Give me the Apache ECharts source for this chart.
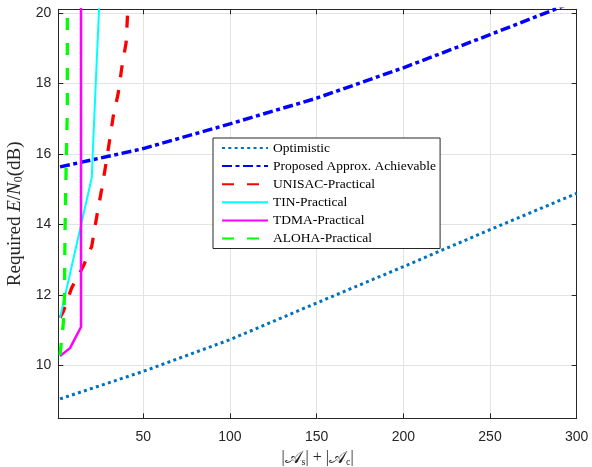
<!DOCTYPE html>
<html>
<head>
<meta charset="utf-8">
<script src="https://cdn.jsdelivr.net/npm/echarts@6/dist/echarts.min.js"></script>
<style>html,body{margin:0;padding:0;background:#fff;}#c{width:592px;height:467px;}</style>
</head>
<body>
<div id="c"></div>
<script>
// ---- data ----
const seriesNames = ['Optimistic','Proposed Approx. Achievable','UNISAC-Practical','TIN-Practical','TDMA-Practical','ALOHA-Practical'];
const xTicks = [50,100,150,200,250,300];
const yTicks = [10,12,14,16,18,20];
const optimistic = [[2,9.05],[50,9.83],[100,10.73],[150,11.77],[200,12.8],[250,13.85],[300,14.88]];
const proposed = [[2,15.63],[50,16.15],[100,16.85],[150,17.58],[200,18.44],[250,19.38],[288,20.11],[300,20.35]];
const unisac = [[2,11.35],[3.9,11.53],[8.7,12.2],[15.4,12.81],[20.3,13.38],[23.2,14.23],[26,14.99],[28.9,15.84],[30.8,16.45],[32.7,17.07],[35.6,17.73],[37.6,18.44],[40.1,19.15],[41,20.0],[41.4,20.4]];
const tin = [[2,11.35],[20.3,15.32],[21.2,16.4],[22.6,18.0],[24.5,20.1],[24.7,20.5]];
const tdma = [[2,10.27],[7.75,10.49],[14.1,11.09],[14.1,21]];
const aloha = [[2,10.3],[3.9,11.2],[4.5,11.9],[4.9,13.9],[5.8,16.4],[6.2,17.2],[6.2,21]];

const chart = echarts.init(document.getElementById('c'));
const axisColor = '#262626';
const gridColor = '#e3e3e3';
const serif = '"Liberation Serif","DejaVu Serif",serif';
const sans = '"Liberation Sans",Arial,sans-serif';

function baseX(pos, show){
  return {
    type:'value', position:pos, min:1, max:300,
    axisLine:{show:true,onZero:false,lineStyle:{color:axisColor,width:1}},
    axisTick:{show:true,inside:true,length:5,customValues:xTicks,lineStyle:{color:axisColor}},
    axisLabel:{show:show,customValues:xTicks,color:'#262626',fontFamily:sans,fontSize:14,margin:12},
    splitLine:{show:show,lineStyle:{color:gridColor,width:1}}
  };
}
function baseY(pos, show){
  return {
    type:'value', position:pos, min:8.5, max:20.1,
    axisLine:{show:true,onZero:false,lineStyle:{color:axisColor,width:1}},
    axisTick:{show:true,inside:true,length:5,customValues:yTicks,lineStyle:{color:axisColor}},
    axisLabel:{show:show,customValues:yTicks,color:'#262626',fontFamily:sans,fontSize:14,margin:7},
    splitLine:{show:show,lineStyle:{color:gridColor,width:1}}
  };
}
const x0 = baseX('bottom', true);
x0.name = '{n||}{s|𝒜}{sub|s}{n|| + |}{s|𝒜}{sub|c}{n||}';
x0.nameLocation = 'middle';
x0.nameGap = 30;
x0.nameTextStyle = {fontFamily:serif,fontSize:16,color:'#262626',rich:{
  n:{fontFamily:serif,fontSize:16,color:'#262626'},
  s:{fontFamily:'"DejaVu Sans","DejaVu Serif",serif',fontSize:18,color:'#262626'},
  sub:{fontFamily:serif,fontSize:10,padding:[8,0,0,0],color:'#262626'}
}};
const y0 = baseY('left', true);
y0.name = '{n|Required }{i|E}{n|/}{i|N}{sub|0}{n|(dB)}';
y0.nameLocation = 'middle';
y0.nameGap = 28;
y0.nameTextStyle = {fontFamily:serif,fontSize:19,color:'#262626',rich:{
  n:{fontFamily:serif,fontSize:19,color:'#262626'},
  i:{fontFamily:serif,fontSize:19,fontStyle:'italic',color:'#262626'},
  sub:{fontFamily:serif,fontSize:12,padding:[8,0,0,0],color:'#262626'}
}};

function line(name, data, color, width, type){
  return {name:name,type:'line',data:data,symbol:'none',showSymbol:false,
    lineStyle:{color:color,width:width,type:type,cap:'butt'},
    itemStyle:{color:color},clip:true,z:2};
}

chart.setOption({
  animation:false,
  backgroundColor:'#fff',
  grid:{left:58.3,right:15.3,top:9.3,bottom:48.7,containLabel:false,outerBoundsMode:'none'},
  xAxis:[x0, baseX('top', false)],
  yAxis:[y0, baseY('right', false)],
  legend:{
    show:true,
    orient:'vertical', left:213, top:138,
    backgroundColor:'#fff', borderColor:'#262626', borderWidth:1, borderRadius:0,
    padding:[3,4,3,8], itemGap:4.1, itemWidth:46, itemHeight:14,
    itemStyle:{opacity:0},
    textStyle:{fontFamily:serif,fontSize:13.5,color:'#000',lineHeight:14},
    data:seriesNames
  },
  series:[
    line(seriesNames[0], optimistic, '#0072BD', 3, [3,3.3]),
    line(seriesNames[1], proposed, '#0000FF', 3.5, [10,3.5,4,3.5]),
    line(seriesNames[2], unisac, '#FF0000', 3.3, [12,13]),
    line(seriesNames[3], tin, '#00FFFF', 2, 'solid'),
    line(seriesNames[4], tdma, '#FF00FF', 2.5, 'solid'),
    line(seriesNames[5], aloha, '#00FF00', 3.3, [12,13])
  ]
});
</script>
</body>
</html>
